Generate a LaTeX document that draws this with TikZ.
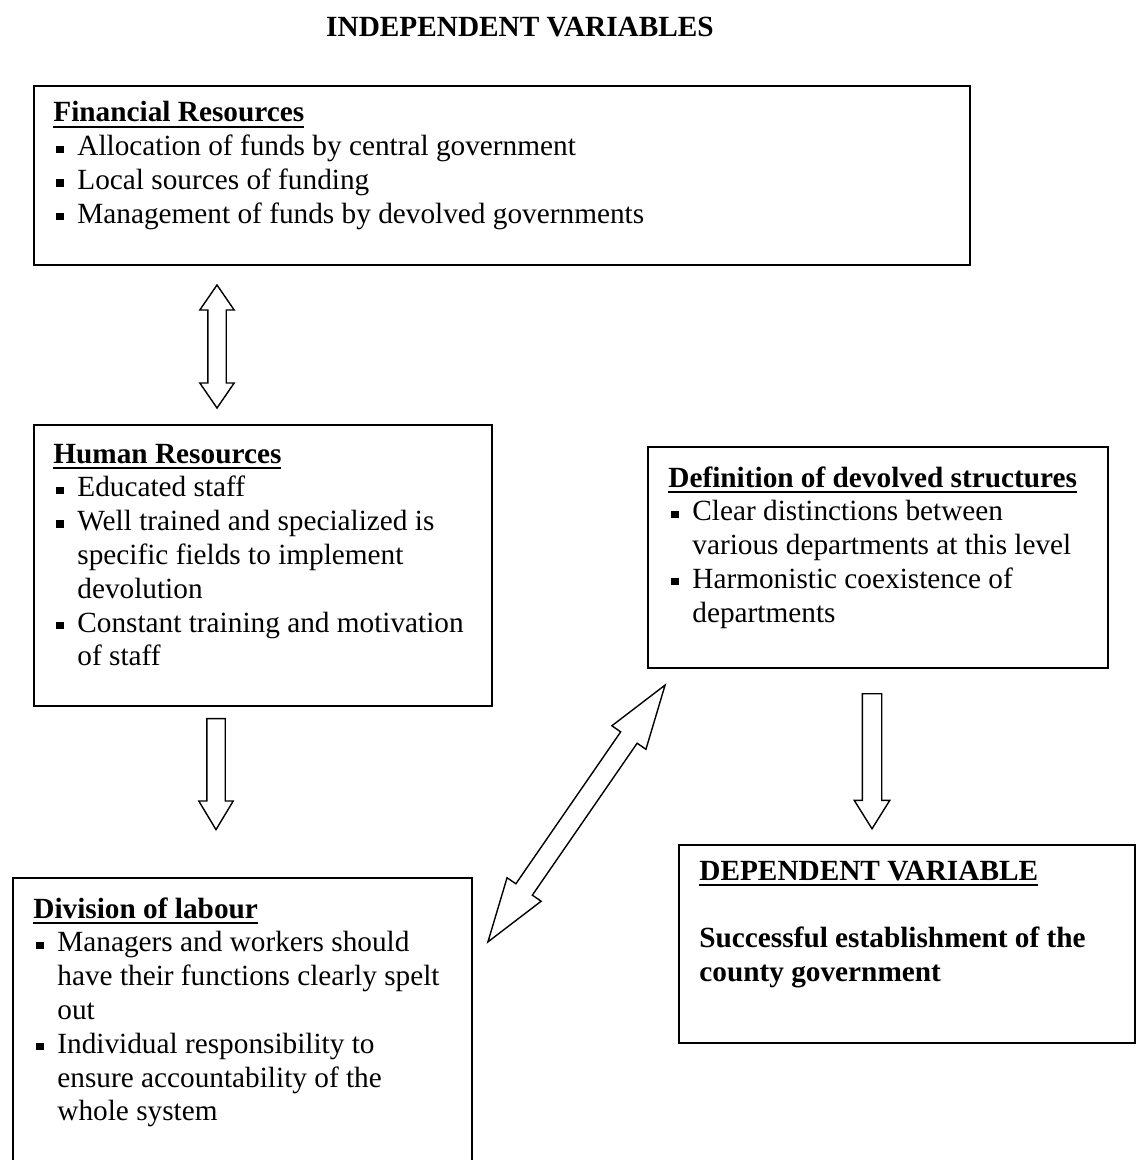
\documentclass[tikz,border=0pt]{standalone}
\usepackage{fontspec}
\setmainfont{Liberation Serif}
\usetikzlibrary{shapes.arrows}

% heading with a low, heavy underline
\newcommand{\hdr}[1]{\leavevmode\setbox0\hbox{\bfseries #1}\rlap{\rule[-3pt]{\wd0}{1pt}}\copy0}
% square bullet item with hanging indent
\newcommand{\bitem}{\par\hangindent=12pt\hangafter=1\noindent\makebox[12pt][l]{\hspace{1.5pt}\rule[1.5pt]{3.6pt}{3.6pt}}}

\tikzset{
  frame/.style={draw, line width=0.9pt, rectangle, anchor=north west, inner sep=0pt},
  txt/.style={anchor=base west, inner sep=0pt, font=\fontsize{14.64}{16.9}\selectfont},
  bigarrow/.style={draw, line width=0.7pt, inner xsep=0pt, inner ysep=4.25pt,
    single arrow, single arrow head extend=4pt},
  bigdarrow/.style={draw, line width=0.7pt, inner xsep=0pt, inner ysep=4.25pt,
    double arrow, double arrow head extend=4pt},
}

\begin{document}
\begin{tikzpicture}[x=0.5pt,y=-0.5pt]
    \useasboundingbox (0,0) rectangle (1136,1160);

    \node[txt, anchor=base] (title) at (520,37) {\textbf{INDEPENDENT VARIABLES}};

    % boxes
    \node[frame, minimum width=468pt, minimum height=89.5pt] (fin) at (33,85) {};
    \node[frame, minimum width=229pt, minimum height=140.5pt] (hum) at (33,424) {};
    \node[frame, minimum width=230pt, minimum height=110.5pt] (def) at (647,446) {};
    \node[frame, minimum width=229.5pt, minimum height=155pt] (div) at (12,877) {};
    \node[frame, minimum width=228pt, minimum height=99pt] (dep) at (678,844) {};

    % box texts
    \node[txt] (fint) at (53,122) {\parbox[t]{300pt}{\raggedright
      \hdr{Financial Resources}
      \bitem Allocation of funds by central government
      \bitem Local sources of funding
      \bitem Management of funds by devolved governments}};

    \node[txt] (humt) at (53,463) {\parbox[t]{220pt}{\raggedright
      \hdr{Human Resources}
      \bitem Educated staff
      \bitem Well trained and specialized is\newline specific fields to implement\newline devolution
      \bitem Constant training and motivation\newline of staff}};

    \node[txt] (deft) at (668,487) {\parbox[t]{220pt}{\raggedright
      \hdr{Definition of devolved structures}
      \bitem Clear distinctions between\newline various departments at this level
      \bitem Harmonistic coexistence of\newline departments}};

    \node[txt] (divt) at (33,918) {\parbox[t]{220pt}{\raggedright
      \hdr{Division of labour}
      \bitem Managers and workers should\newline have their functions clearly spelt\newline out
      \bitem Individual responsibility to\newline ensure accountability of the\newline whole system}};

    \node[txt] (dept) at (699,880) {\parbox[t]{220pt}{\raggedright
      \hdr{DEPENDENT VARIABLE}\newline\mbox{}\newline
      \textbf{Successful establishment of the}\newline
      \textbf{county government}}};

    % block arrows
    \node[bigdarrow, double arrow tip angle=69, minimum height=61.5pt, rotate=90] (a1) at (217,346.5) {};
    \node[bigarrow, single arrow tip angle=62, minimum height=55.5pt, rotate=-90] (a2) at (216,766.5) {};
    \node[bigarrow, single arrow tip angle=64, inner ysep=4.5pt, minimum height=67.5pt, rotate=-90] (a3) at (872,753.5) {};
    \node[bigdarrow, double arrow tip angle=36, inner ysep=4.65pt, double arrow head extend=5.35pt,
      minimum height=156pt, rotate=55.4] (a4) at (576.5,813.5) {};
\end{tikzpicture}
\end{document}
